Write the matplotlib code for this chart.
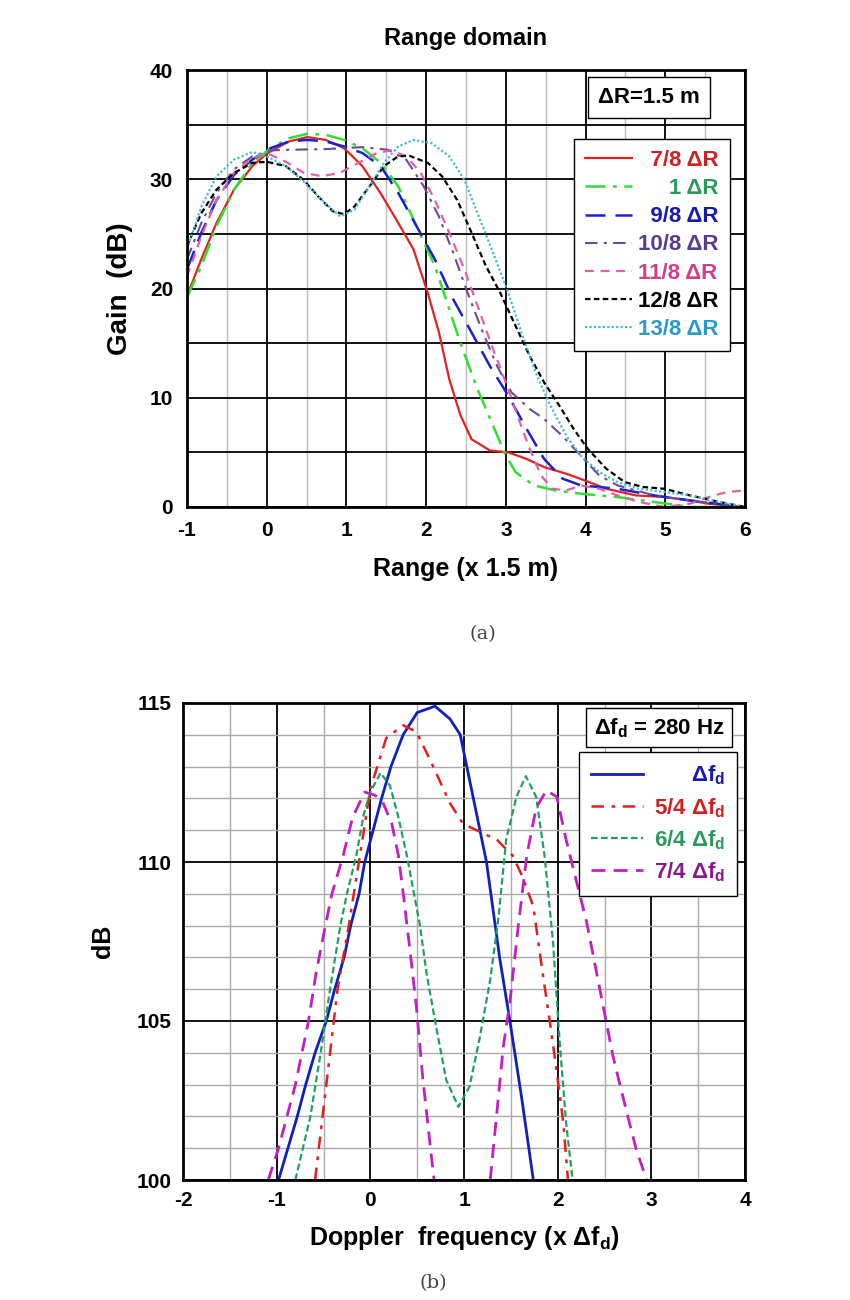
import numpy as np
import matplotlib
matplotlib.use("Agg")
from matplotlib import pyplot as plt
from matplotlib.ticker import MultipleLocator

plt.rcParams['font.family'] = ['Liberation Sans', 'DejaVu Sans']
plt.rcParams['font.weight'] = 'bold'
plt.rcParams['axes.unicode_minus'] = False
plt.rcParams['mathtext.fontset'] = 'custom'
plt.rcParams['mathtext.bf'] = 'Liberation Sans:bold'
plt.rcParams['mathtext.rm'] = 'Liberation Sans:bold'

# ---- (a) range domain, gain in dB vs range (x 1.5 m)
r78_x = [-1, -0.82, -0.63, -0.41, -0.18, 0.01, 0.28, 0.51, 0.74, 0.97, 1.2, 1.43, 1.65, 1.84, 2.02, 2.16,
         2.29, 2.43, 2.57, 2.8, 3.03, 3.26, 3.48, 3.76, 3.99, 4.26, 4.63, 4.99, 5.31, 5.54, 6.0]
r78_y = [19.3, 22.7, 26.0, 29.05, 31.2, 32.4, 33.46, 33.86, 33.6, 32.85, 31.2, 28.7, 26.0, 23.6, 19.6, 16.0,
         11.7, 8.4, 6.2, 5.17, 5.0, 4.4, 3.65, 3.04, 2.43, 1.67, 1.06, 0.91, 0.6, 0.3, 0.0]

r1_x = [-1, -0.82, -0.63, -0.41, -0.18, 0.05, 0.28, 0.51, 0.74, 0.97, 1.2, 1.43, 1.65, 1.88, 2.11, 2.29,
        2.43, 2.66, 2.84, 2.98, 3.12, 3.35, 3.62, 3.94, 4.4, 4.86, 5.31, 6.0]
r1_y = [19.2, 22.05, 25.7, 29.05, 31.5, 32.85, 33.76, 34.16, 34.07, 33.6, 32.85, 31.5, 29.35, 25.7, 22.05, 18.1,
        15.0, 10.5, 7.45, 5.0, 3.2, 1.98, 1.52, 1.22, 0.91, 0.46, 0.0, 0.0]

r98_x = [-1, -0.82, -0.63, -0.41, -0.18, 0.05, 0.28, 0.51, 0.74, 0.97, 1.2, 1.43, 1.65, 1.88, 2.11, 2.34,
         2.57, 2.8, 3.03, 3.26, 3.48, 3.71, 3.94, 4.4, 4.86, 5.31, 6.0]
r98_y = [21.75, 25.1, 28.1, 30.4, 31.8, 32.85, 33.46, 33.6, 33.46, 33.0, 32.4, 31.2, 28.75, 25.7, 22.66, 19.0,
         15.97, 12.9, 10.2, 7.15, 4.4, 2.6, 1.98, 1.67, 1.06, 0.6, 0.0]

r108_x = [-1, -0.82, -0.63, -0.41, -0.18, 0.05, 0.28, 0.74, 1.2, 1.52, 1.75, 1.97, 2.16, 2.34, 2.52, 2.71,
          2.89, 3.07, 3.3, 3.48, 3.71, 3.94, 4.17, 4.4, 4.86, 5.31, 6.0]
r108_y = [22.66, 26.0, 28.75, 30.9, 32.1, 32.64, 32.7, 32.76, 32.94, 32.7, 31.8, 29.35, 26.6, 23.27, 19.6, 16.0,
          12.9, 10.5, 8.97, 8.06, 6.5, 4.7, 2.9, 1.98, 1.06, 0.6, 0.0]

r118_x = [-1, -0.82, -0.63, -0.41, -0.18, 0.0, 0.24, 0.46, 0.69, 0.92, 1.15, 1.38, 1.56, 1.75, 1.93, 2.11,
          2.29, 2.48, 2.66, 2.84, 3.03, 3.16, 3.3, 3.44, 3.58, 3.76, 3.94, 4.17, 4.4, 4.67, 4.99, 5.31,
          5.54, 5.77, 6.0]
r118_y = [21.1, 24.8, 28.1, 30.6, 31.9, 32.4, 31.6, 30.6, 30.27, 30.6, 31.5, 32.4, 32.64, 32.1, 30.6, 28.1,
          25.1, 21.75, 18.1, 14.45, 10.8, 8.06, 5.3, 2.9, 1.67, 1.52, 1.98, 1.67, 1.06, 0.46, 0.0, 0.3,
          0.9, 1.37, 1.52]

r128_x = [-1, -0.82, -0.63, -0.41, -0.18, 0.0, 0.24, 0.46, 0.65, 0.83, 0.97, 1.1, 1.29, 1.47, 1.65, 1.79,
          2.02, 2.2, 2.39, 2.57, 2.75, 2.93, 3.12, 3.3, 3.48, 3.67, 3.85, 4.03, 4.26, 4.49, 4.72, 4.99,
          5.31, 5.68, 6.0]
r128_y = [23.9, 26.9, 29.05, 30.57, 31.5, 31.6, 31.2, 29.96, 28.4, 27.07, 26.8, 27.5, 29.35, 31.2, 32.1, 32.15,
          31.5, 30.27, 28.1, 25.1, 22.05, 19.6, 16.6, 13.8, 11.4, 9.28, 7.15, 5.3, 3.5, 2.28, 1.83, 1.67,
          1.06, 0.46, 0.0]

r138_x = [-1, -0.82, -0.63, -0.41, -0.18, 0.0, 0.24, 0.46, 0.69, 0.92, 1.1, 1.29, 1.47, 1.65, 1.84, 2.07,
          2.29, 2.48, 2.66, 2.84, 3.03, 3.21, 3.39, 3.58, 3.76, 3.94, 4.17, 4.4, 4.67, 4.99, 5.31, 5.68, 6.0]
r138_y = [23.6, 27.5, 30.27, 31.8, 32.5, 32.1, 31.2, 29.8, 28.1, 26.6, 27.2, 29.35, 31.5, 33.0, 33.6, 33.3,
          32.1, 29.96, 26.6, 23.27, 19.6, 15.67, 12.0, 8.97, 6.5, 4.7, 3.2, 2.28, 1.67, 1.37, 1.06, 0.46, 0.0]

FS = '\u2007'   # figure space, digit wide
PS = '\u2008'   # punctuation space
range_labels = [FS + '7/8 ΔR', FS + FS + PS + '1 ΔR', FS + '9/8 ΔR', '10/8 ΔR',
                '11/8 ΔR', '12/8 ΔR', '13/8 ΔR']

# ---- (b) doppler domain, dB vs doppler frequency (x delta f_d)
d1_x = [-0.98, -0.88, -0.78, -0.69, -0.59, -0.47, -0.38, -0.28, -0.21, -0.12, -0.06, 0.03, 0.12, 0.22, 0.35,
        0.5, 0.69, 0.85, 0.96, 1.03, 1.1, 1.17, 1.24, 1.38, 1.49, 1.62, 1.74]
d1_y = [100, 101, 102, 103, 104, 105, 106, 107, 108, 109, 110, 111, 112, 113, 114,
        114.7, 114.9, 114.5, 114, 113, 112, 111, 110, 107, 105, 102.5, 100]

d54_x = [-0.59, -0.51, -0.43, -0.35, -0.23, -0.09, 0.0, 0.17, 0.35, 0.49, 0.64, 0.85, 0.99, 1.17, 1.35,
         1.52, 1.63, 1.74, 1.84, 1.92, 1.99, 2.06, 2.11]
d54_y = [100, 102, 104, 106, 108, 110.6, 112.3, 113.9, 114.3, 114.1, 113.2, 111.85, 111.2, 110.95, 110.7,
         110.2, 109.5, 108.6, 106.5, 104.9, 103.4, 101.8, 100]

d64_x = [-0.8, -0.64, -0.53, -0.43, -0.32, -0.25, -0.15, -0.07, 0.0, 0.11, 0.21, 0.3, 0.39, 0.46, 0.53,
         0.6, 0.71, 0.81, 0.94, 1.06, 1.17, 1.28, 1.37, 1.45, 1.56, 1.66, 1.77, 1.86, 1.95, 2.02, 2.09, 2.16]
d64_y = [100, 102, 104, 106, 108, 109, 110.2, 111.5, 112.2, 112.8, 112.4, 111.4, 110.2, 109.1, 108.0,
         106.5, 104.7, 103.15, 102.3, 102.95, 104.5, 106.3, 108.3, 110.7, 112.05, 112.7, 112.05, 110.2, 107.5,
         104.4, 101.8, 100]

# two lobes, the curve dips below 100 dB in between
d74_x = [-1.09, -0.98, -0.89, -0.8, -0.73, -0.66, -0.58, -0.48, -0.41, -0.29, -0.19, -0.06, 0.05, 0.13,
         0.23, 0.3, 0.36, 0.42, 0.49, 0.56, 0.62, 0.68, np.nan,
         1.28, 1.35, 1.42, 1.49, 1.58, 1.67, 1.77, 1.88, 1.99, 2.09, 2.2, 2.31, 2.45, 2.59, 2.74, 2.84, 2.95]
d74_y = [100, 101, 102, 103, 104, 105, 106.5, 108, 109, 110.2, 111.4, 112.2, 112.1, 111.9,
         111.2, 110.2, 108.8, 107.3, 105.5, 103.2, 101.6, 100, np.nan,
         100, 102.1, 104.2, 105.6, 108.0, 110.2, 111.7, 112.25, 112.05, 110.7, 109.4, 108.1, 106.0, 103.9,
         102.1, 100.95, 100]

dop_labels = [FS + FS + PS + PS + r'Δf$_\mathbf{d}$', r'5/4 Δf$_\mathbf{d}$',
              r'6/4 Δf$_\mathbf{d}$', r'7/4 Δf$_\mathbf{d}$']

fig = plt.figure(figsize=(8.5, 13), dpi=100)

# ================= (a)
ax = fig.add_axes([187 / 850, 1 - 507 / 1300, 558 / 850, 437 / 1300])
ax.plot(r78_x, r78_y, color="#E02222", linewidth=1.6, label=range_labels[0])
ax.plot(r1_x, r1_y, color="#33DD33", linewidth=1.8, linestyle=(0, (8, 3, 1.5, 3)), label=range_labels[1])
ax.plot(r98_x, r98_y, color="#1A22CC", linewidth=1.8, linestyle=(0, (8, 4)), label=range_labels[2])
ax.plot(r108_x, r108_y, color="#6A4A9A", linewidth=1.5, linestyle=(0, (6, 3, 1.5, 3)), label=range_labels[3])
ax.plot(r118_x, r118_y, color="#E060A8", linewidth=1.6, linestyle=(0, (4, 3)), label=range_labels[4])
ax.plot(r128_x, r128_y, color="#000000", linewidth=1.6, linestyle=(0, (2.5, 1.5)), label=range_labels[5])
ax.plot(r138_x, r138_y, color="#44BBDD", linewidth=1.6, linestyle=(0, (1, 1)), label=range_labels[6])

ax.set_xlim(-1, 6)
ax.set_ylim(0, 40)
ax.xaxis.set_major_locator(MultipleLocator(1))
ax.xaxis.set_minor_locator(MultipleLocator(0.5))
ax.yaxis.set_major_locator(MultipleLocator(10))
ax.yaxis.set_minor_locator(MultipleLocator(5))
ax.grid(which='major', axis='x', color='black', linewidth=1.3)
ax.grid(which='minor', axis='x', color='#BBBBBB', linewidth=1.0)
ax.grid(which='both', axis='y', color='black', linewidth=1.3)
ax.set_axisbelow(True)
ax.tick_params(which='both', length=0, labelsize=15, pad=10)
for s in ax.spines.values():
    s.set_linewidth(2)
ax.set_title("Range domain", fontsize=17, fontweight='bold', pad=18)
ax.set_xlabel("Range (x 1.5 m)", fontsize=18, fontweight='bold', labelpad=12)
ax.set_ylabel("Gain  (dB)", fontsize=20, fontweight='bold', labelpad=12)

ax.text(0.828, 0.936, "ΔR=1.5 m", transform=ax.transAxes, ha='center', va='center', fontsize=16,
        bbox=dict(boxstyle='square,pad=0.45', facecolor='white', edgecolor='black', linewidth=1))

leg = ax.legend(loc='upper right', bbox_to_anchor=(0.973, 0.842), fontsize=16, frameon=True,
                fancybox=False, framealpha=1, edgecolor='black', handlelength=2.1,
                handletextpad=0.3, labelspacing=0.32, borderpad=0.5, borderaxespad=0)
leg.get_frame().set_linewidth(1)
for t, c in zip(leg.get_texts(), ["#CC2222", "#2A9A5A", "#1A1AAA", "#5B3A8C", "#D0408A", "#000000", "#2A9AC8"]):
    t.set_color(c)

fig.text(483 / 850, 1 - 634 / 1300, "(a)", ha='center', va='center', fontsize=14,
         fontweight='normal', color='#444444', family=['DejaVu Serif'])

# ================= (b)
bx = fig.add_axes([183 / 850, 1 - 1180 / 1300, 562 / 850, 477 / 1300])
bx.plot(d1_x, d1_y, color="#1020B8", linewidth=2, label=dop_labels[0])
bx.plot(d54_x, d54_y, color="#E02020", linewidth=1.8, linestyle=(0, (5, 3, 1.5, 3)), label=dop_labels[1])
bx.plot(d64_x, d64_y, color="#20A060", linewidth=1.6, linestyle=(0, (3, 1.5)), label=dop_labels[2])
bx.plot(d74_x, d74_y, color="#C020C0", linewidth=2, linestyle=(0, (5, 3)), label=dop_labels[3])

bx.set_xlim(-2, 4)
bx.set_ylim(100, 115)
bx.xaxis.set_major_locator(MultipleLocator(1))
bx.xaxis.set_minor_locator(MultipleLocator(0.5))
bx.yaxis.set_major_locator(MultipleLocator(5))
bx.yaxis.set_minor_locator(MultipleLocator(1))
bx.grid(which='major', color='black', linewidth=1.3)
bx.grid(which='minor', color='#AAAAAA', linewidth=1.0)
bx.set_axisbelow(True)
bx.tick_params(which='both', length=0, labelsize=15, pad=8)
for s in bx.spines.values():
    s.set_linewidth(2)
bx.set_xlabel(r"Doppler  frequency (x Δf$_\mathbf{d}$)", fontsize=18, fontweight='bold', labelpad=10)
bx.set_ylabel("dB", fontsize=18, fontweight='bold', labelpad=16)

bx.text(0.847, 0.948, r"Δf$_\mathbf{d}$ = 280 Hz", transform=bx.transAxes, ha='center', va='center',
        fontsize=16, bbox=dict(boxstyle='square,pad=0.35', facecolor='white', edgecolor='black', linewidth=1))

leg2 = bx.legend(loc='upper right', bbox_to_anchor=(0.986, 0.898), fontsize=16, frameon=True,
                 fancybox=False, framealpha=1, edgecolor='black', handlelength=2.3,
                 handletextpad=0.5, labelspacing=0.38, borderpad=0.55, borderaxespad=0)
leg2.get_frame().set_linewidth(1)
for t, c in zip(leg2.get_texts(), ["#1A1AAA", "#D02020", "#2A9A5A", "#8A1A8A"]):
    t.set_color(c)

fig.text(433 / 850, 1 - 1283 / 1300, "(b)", ha='center', va='center', fontsize=14,
         fontweight='normal', color='#444444', family=['DejaVu Serif'])

fig.savefig("out.png", dpi=100)
